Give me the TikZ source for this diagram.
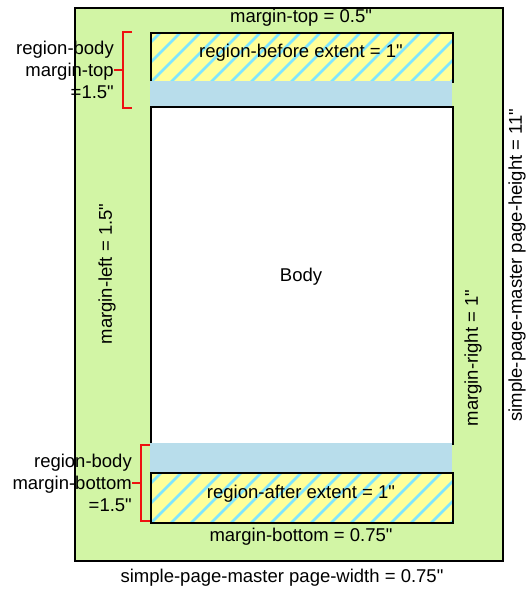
\documentclass[tikz,border=0pt]{standalone}
\usepackage{fontspec}
\setmainfont{Liberation Sans}[Ligatures=TeXOff]
\definecolor{pagegreen}{HTML}{D2F5A5}
\definecolor{regyellow}{HTML}{FFFF99}
\definecolor{bandblue}{HTML}{B8DDEB}
\definecolor{hatchcyan}{HTML}{80E6FF}
\definecolor{bracketred}{HTML}{EE1111}
\begin{document}
\begin{tikzpicture}[x=1pt,y=-1pt,
  lbl/.style={font=\fontsize{18.5}{22}\selectfont, inner sep=0pt},
  boxline/.style={draw=black, line width=2pt},
  band/.style={fill=bandblue, inner sep=0pt, minimum width=302pt, anchor=north west},
  hatched/.style={boxline, fill=regyellow, inner sep=0pt, minimum width=302pt, anchor=north west,
    path picture={\foreach \i in {-80,-60,...,320}
      \draw[hatchcyan, line width=2.5pt] ([xshift=\i pt]path picture bounding box.south west) -- ++(70pt,70pt);}},
  bracket/.style={draw=bracketred, line width=2pt}]
\useasboundingbox (0,0) rectangle (531,589);
% page
\node[boxline, fill=pagegreen, inner sep=0pt, minimum width=428pt, minimum height=553pt, anchor=north west] (page) at (74,7) {};
% regions
\node[hatched, minimum height=49pt] (before) at (150,32) {};
\node[band, minimum height=25pt] (bandtop) at (150,81) {};
\node[boxline, fill=white, inner sep=0pt, minimum width=302pt, minimum height=337pt, anchor=north west] (body) at (150,106) {};
\node[band, minimum height=29pt] (bandbot) at (150,443) {};
\node[hatched, minimum height=50pt] (after) at (150,472) {};
% texts
\node[lbl] (mtop) at (301,18) {margin-top = 0.5"};
\node[lbl] (tbefore) at (301,53) {region-before extent = 1"};
\node[lbl] (tbody) at (301,277) {Body};
\node[lbl] (tafter) at (301,494) {region-after extent = 1"};
\node[lbl] (mbottom) at (301,537) {margin-bottom = 0.75"};
\node[lbl] (pwidth) at (282,578) {simple-page-master page-width = 0.75"};
\node[lbl, rotate=90] (mleft) at (107,274) {margin-left = 1.5"};
\node[lbl, rotate=90] (mright) at (473,358) {margin-right = 1"};
\node[lbl, rotate=90] (pheight) at (517,265) {simple-page-master page-height = 11"};
\node[lbl, align=right, anchor=east] (rbtop) at (114,70) {region-body\\margin-top\\=1.5"};
\node[lbl, align=right, anchor=east] (rbbot) at (132,483) {region-body\\margin-bottom\\=1.5"};
% brackets
\coordinate (bt1) at (132,32);
\coordinate (bt2) at (132,108);
\coordinate (btm) at (123,70);
\draw[bracket] (bt1) -- (123,32) -- (123,108) -- (bt2);
\draw[bracket] (rbtop.east) -- (btm);
\coordinate (bb1) at (150,445);
\coordinate (bb2) at (150,521);
\coordinate (bbm) at (141,483);
\draw[bracket] (bb1) -- (141,445) -- (141,521) -- (bb2);
\draw[bracket] (rbbot.east) -- (bbm);
\end{tikzpicture}
\end{document}
